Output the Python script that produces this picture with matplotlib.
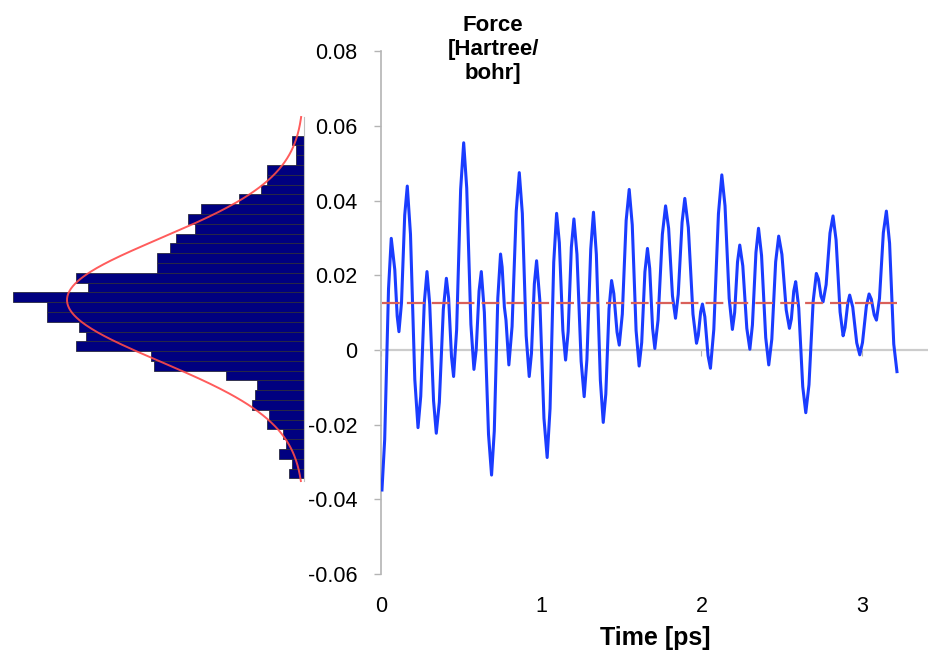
import numpy as np
import matplotlib.pyplot as plt

plt.rcParams['font.family'] = ['Liberation Sans', 'DejaVu Sans']

# force trace (each extremum followed by two points on its flank)
time_ps = [0.006, 0.023, 0.047, 0.064, 0.075, 0.086, 0.101, 0.112, 0.128, 0.148,
           0.164, 0.184, 0.211, 0.231, 0.248, 0.270, 0.287, 0.304, 0.328, 0.345,
           0.364, 0.389, 0.408, 0.422, 0.440, 0.453, 0.472, 0.497, 0.516, 0.535,
           0.561, 0.580, 0.594, 0.612, 0.626, 0.645, 0.671, 0.690, 0.707, 0.729,
           0.746, 0.756, 0.770, 0.780, 0.798, 0.818, 0.844, 0.863, 0.882, 0.906,
           0.925, 0.939, 0.957, 0.971, 0.991, 1.017, 1.037, 1.055, 1.078, 1.096,
           1.113, 1.135, 1.152, 1.168, 1.188, 1.204, 1.223, 1.249, 1.268, 1.285,
           1.309, 1.326, 1.344, 1.369, 1.387, 1.403, 1.423, 1.439, 1.453, 1.473,
           1.487, 1.506, 1.530, 1.549, 1.568, 1.592, 1.611, 1.627, 1.647, 1.663,
           1.677, 1.695, 1.709, 1.729, 1.756, 1.776, 1.795, 1.819, 1.838, 1.855,
           1.879, 1.896, 1.918, 1.947, 1.969, 1.980, 1.995, 2.006, 2.021, 2.041,
           2.056, 2.077, 2.106, 2.127, 2.147, 2.173, 2.193, 2.207, 2.225, 2.239,
           2.258, 2.283, 2.302, 2.318, 2.340, 2.356, 2.375, 2.401, 2.420, 2.439,
           2.463, 2.482, 2.502, 2.529, 2.549, 2.561, 2.576, 2.588, 2.607, 2.632,
           2.651, 2.671, 2.697, 2.717, 2.730, 2.746, 2.759, 2.778, 2.802, 2.821,
           2.840, 2.865, 2.884, 2.896, 2.913, 2.925, 2.944, 2.969, 2.988, 3.005,
           3.029, 3.046, 3.060, 3.078, 3.092, 3.111, 3.135, 3.154, 3.174, 3.200,
           3.220]
force = [-0.0375, -0.0240, 0.0164, 0.0299, 0.0257, 0.0215, 0.0091, 0.0049, 0.0127, 0.0361,
         0.0439, 0.0310, -0.0079, -0.0208, -0.0124, 0.0126, 0.0210, 0.0123, -0.0136, -0.0223,
         -0.0140, 0.0109, 0.0192, 0.0139, -0.0018, -0.0071, 0.0054, 0.0430, 0.0555, 0.0434,
         0.0069, -0.0052, 0.0000, 0.0158, 0.0210, 0.0101, -0.0226, -0.0335, -0.0217, 0.0139,
         0.0257, 0.0222, 0.0115, 0.0080, -0.0040, 0.0063, 0.0372, 0.0475, 0.0366, 0.0038,
         -0.0071, -0.0009, 0.0177, 0.0239, 0.0134, -0.0183, -0.0288, -0.0157, 0.0235, 0.0366,
         0.0287, 0.0052, -0.0027, 0.0049, 0.0275, 0.0351, 0.0256, -0.0030, -0.0125, -0.0026,
         0.0270, 0.0369, 0.0256, -0.0081, -0.0194, -0.0118, 0.0110, 0.0186, 0.0151, 0.0048,
         0.0013, 0.0096, 0.0347, 0.0430, 0.0335, 0.0052, -0.0043, 0.0020, 0.0209, 0.0272,
         0.0218, 0.0058, 0.0004, 0.0080, 0.0310, 0.0386, 0.0326, 0.0145, 0.0085, 0.0149,
         0.0342, 0.0406, 0.0328, 0.0096, 0.0018, 0.0039, 0.0102, 0.0123, 0.0089, -0.0015,
         -0.0049, 0.0055, 0.0365, 0.0469, 0.0386, 0.0138, 0.0055, 0.0100, 0.0236, 0.0281,
         0.0225, 0.0058, 0.0002, 0.0067, 0.0261, 0.0326, 0.0253, 0.0033, -0.0040, 0.0029,
         0.0236, 0.0305, 0.0256, 0.0107, 0.0058, 0.0083, 0.0158, 0.0183, 0.0113, -0.0098,
         -0.0168, -0.0093, 0.0130, 0.0205, 0.0190, 0.0144, 0.0129, 0.0175, 0.0313, 0.0359,
         0.0295, 0.0102, 0.0038, 0.0060, 0.0125, 0.0147, 0.0115, 0.0019, -0.0013, 0.0020,
         0.0117, 0.0150, 0.0136, 0.0094, 0.0080, 0.0138, 0.0314, 0.0372, 0.0286, 0.0016,
         -0.0058]
mean_force = 0.0126

# histogram of force, bins listed from top (high force) to bottom
hist_counts = [12, 8, 8, 37, 37, 43, 65, 103, 116, 109, 128, 134, 147, 147, 228, 216, 291, 257,
               257, 225, 218, 228, 153, 150, 78, 47, 49, 52, 35, 37, 21, 18, 25, 12, 15]
hist_top = 0.0574
hist_bottom = -0.0344

# gaussian fit
fit_mu = 0.0134
fit_sigma = 0.0165
fit_peak = 237
fit_low, fit_high = -0.0351, 0.0624

y_ticks = [-0.06, -0.04, -0.02, 0, 0.02, 0.04, 0.06, 0.08]
y_tick_labels = ['-0.06', '-0.04', '-0.02', '0', '0.02', '0.04', '0.06', '0.08']
x_ticks = [0, 1, 2, 3]

W, H = 929, 653
fig = plt.figure(figsize=(W / 100, H / 100), dpi=100)
bottom = (H - 574) / H
height = (574 - 51.3) / H
ax = fig.add_axes([381 / W, bottom, 1 - 381 / W, height])
axh = fig.add_axes([0, bottom, 304 / W, height])

grey = '#b4b4b4'

# main trace
ax.plot(time_ps, force, color='#1a3cff', lw=2.2, solid_joinstyle='round', zorder=3)
ax.plot([time_ps[0], time_ps[-1]], [mean_force, mean_force], color='#d9605a', lw=1.6,
        dashes=(8, 3.2), zorder=4)
ax.set_xlim(0, 3.42)
ax.set_ylim(-0.06, 0.08)
ax.set_yticks(y_ticks)
ax.set_yticklabels(y_tick_labels)
for s in ['top', 'right']:
    ax.spines[s].set_visible(False)
ax.spines['left'].set_color(grey)
ax.spines['left'].set_linewidth(1.2)
ax.spines['bottom'].set_position(('data', 0))
ax.spines['bottom'].set_color('#cccccc')
ax.spines['bottom'].set_linewidth(1.6)
ax.set_xticks(x_ticks)
ax.tick_params(axis='x', labelbottom=False, direction='out', length=4, color=grey)
ax.tick_params(axis='y', direction='out', length=5, width=1, color=grey, labelsize=15.5, pad=12)

sec = ax.secondary_xaxis('bottom')
sec.set_xticks(x_ticks)
sec.spines['bottom'].set_visible(False)
sec.tick_params(length=0, pad=16, labelsize=15.5)
sec.set_xlabel('Time [ps]', fontsize=18, fontweight='bold', labelpad=6)

fig.text(493 / W, 1 - 15 / H, 'Force\n[Hartree/\nbohr]', ha='center', va='top',
         fontsize=16, fontweight='bold', linespacing=1.2)

# histogram on the left, growing leftwards
edges = np.linspace(hist_bottom, hist_top, len(hist_counts) + 1)
axh.barh(edges[:-1], hist_counts[::-1], height=edges[1] - edges[0], align='edge',
         color='#000080', edgecolor='#2a2a40', linewidth=0.6)
yy = np.linspace(fit_low, fit_high, 300)
axh.plot(fit_peak * np.exp(-0.5 * ((yy - fit_mu) / fit_sigma) ** 2), yy,
         color='#ff4a4a', lw=1.4, alpha=0.9)
axh.set_xlim(304, 0)
axh.set_ylim(-0.06, 0.08)
axh.set_xticks([])
axh.set_yticks([])
for s in ['top', 'left', 'bottom']:
    axh.spines[s].set_visible(False)
axh.spines['right'].set_color('#c0c0c0')
axh.spines['right'].set_bounds(fit_low, fit_high)

fig.savefig('out.png', dpi=100)
